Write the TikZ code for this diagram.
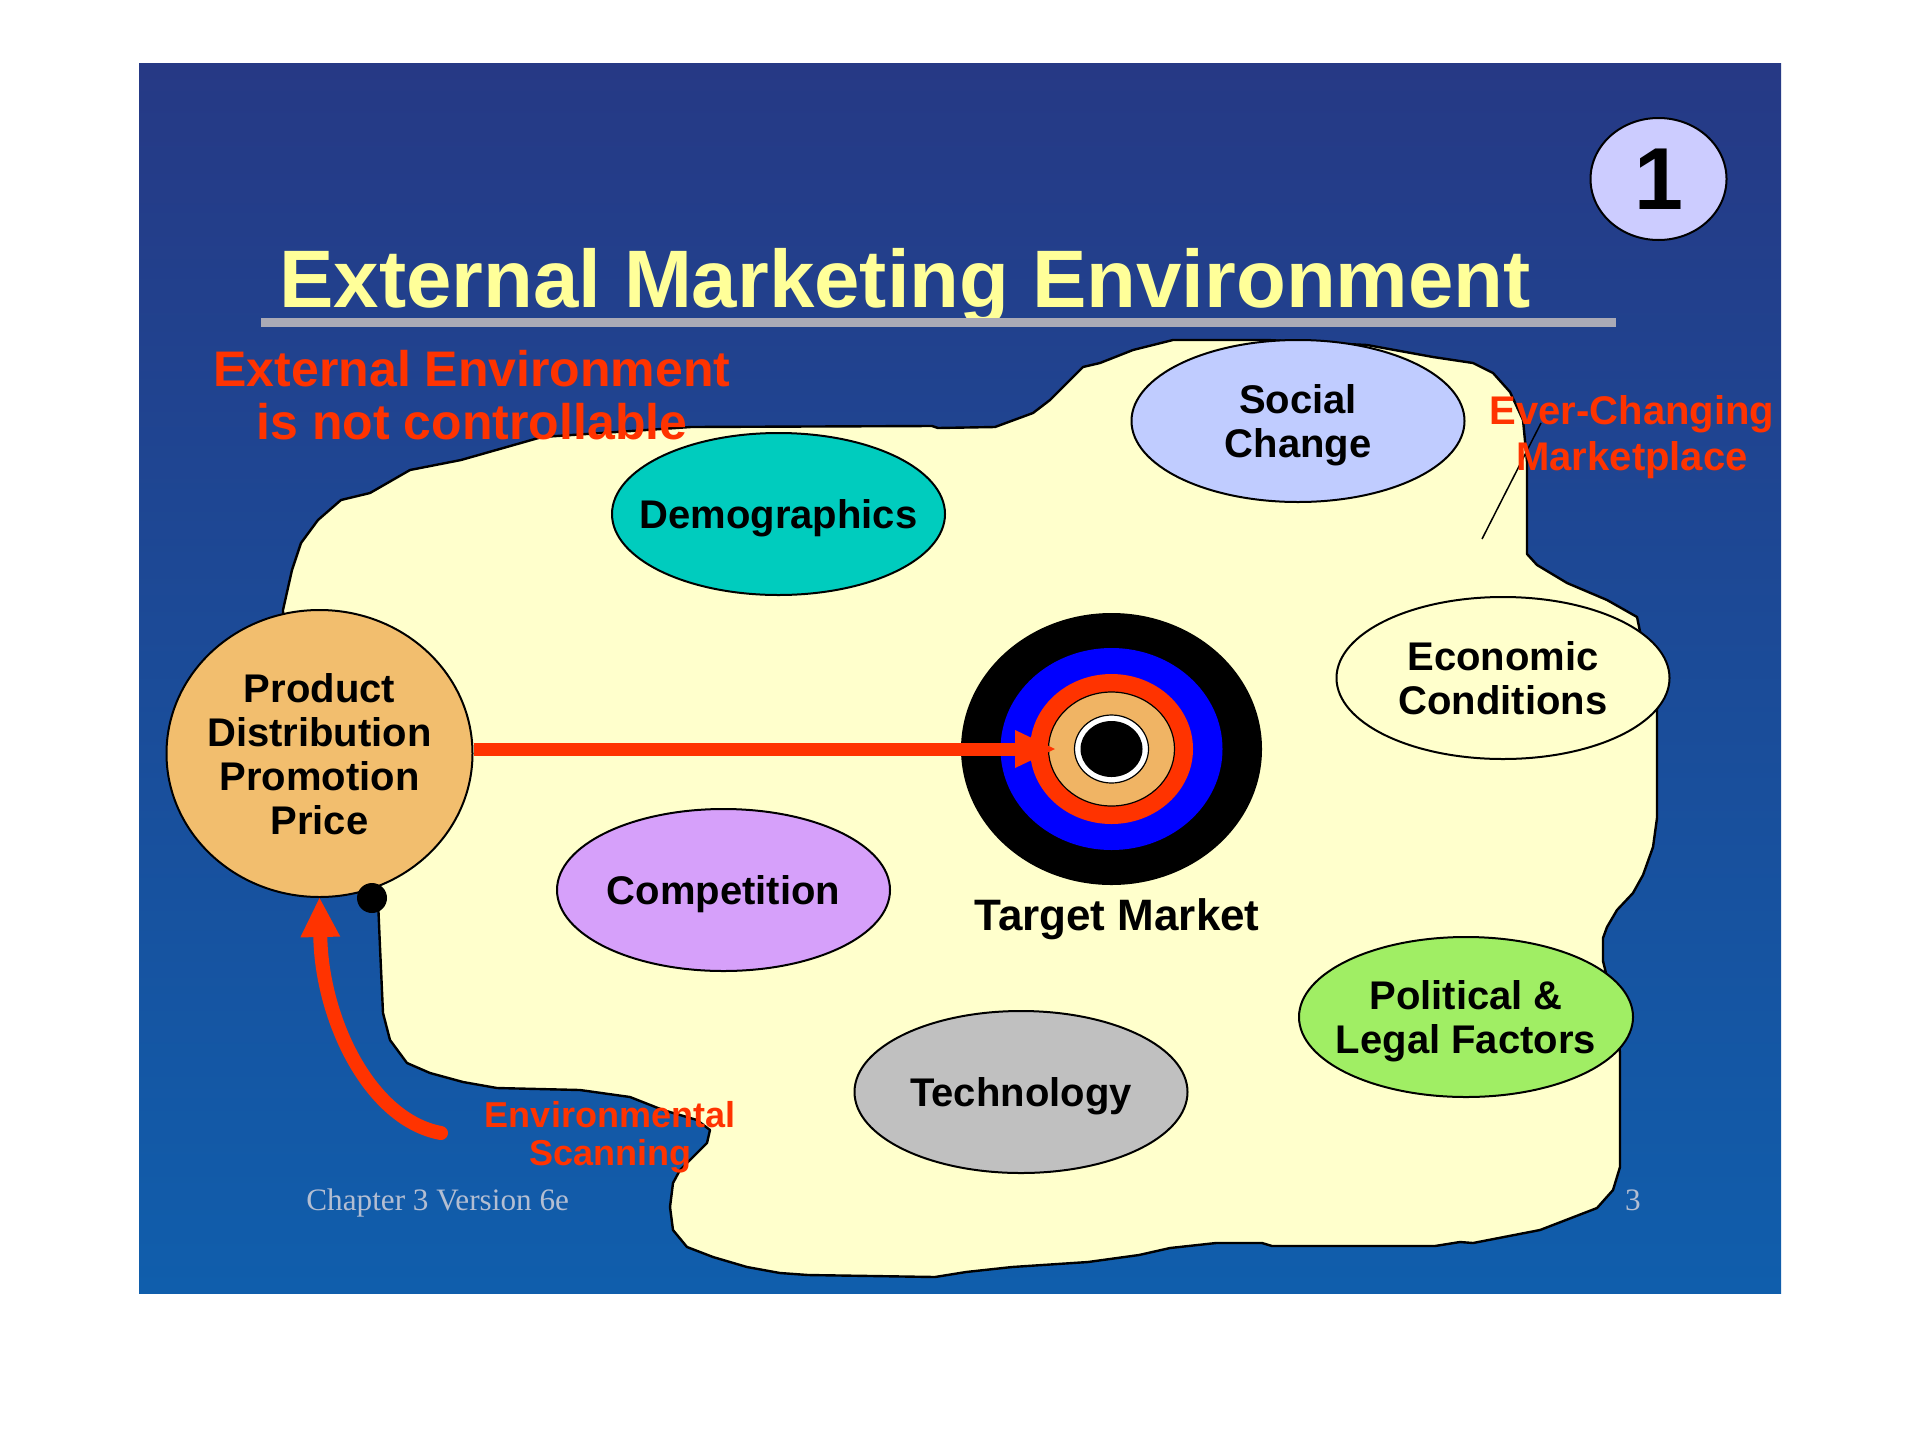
\documentclass[tikz,border=0pt]{standalone}
\usepackage{fontspec}
\setmainfont{Liberation Sans}
\newfontfamily\serifface{Liberation Serif}
\usetikzlibrary{arrows.meta,shapes.geometric}
\definecolor{bgtop}{RGB}{38,57,133}
\definecolor{bgbot}{RGB}{16,94,172}
\definecolor{cream}{RGB}{255,255,204}
\definecolor{hotred}{RGB}{255,51,0}
\definecolor{titleyel}{RGB}{255,255,153}
\definecolor{rulegray}{RGB}{170,170,182}
\definecolor{lavcircle}{RGB}{204,204,255}
\definecolor{tealfill}{RGB}{0,204,190}
\definecolor{socialfill}{RGB}{192,204,255}
\definecolor{purplefill}{RGB}{214,160,250}
\definecolor{grayfill}{RGB}{192,192,192}
\definecolor{greenfill}{RGB}{160,238,100}
\definecolor{prodfill}{RGB}{242,190,110}
\definecolor{ringorange}{RGB}{240,180,100}
\definecolor{footgray}{RGB}{180,190,210}
\begin{document}
\begin{tikzpicture}[x=0.5pt,y=-0.5pt,
  oval/.style={ellipse, draw=black, line width=1pt, inner sep=-60pt,
    minimum width=166.5pt, minimum height=81pt, align=center, text depth=0pt,
    font=\fontsize{20pt}{22pt}\selectfont\bfseries},
  ring/.style={ellipse, inner sep=0pt, draw=none},
  redlabel/.style={text=hotred, align=center, inner sep=0pt, text depth=0pt},
  footer/.style={text=footgray, inner sep=0pt, font=\serifface\fontsize{15.6pt}{16pt}\selectfont},
  bigarrow/.style={draw=hotred, line width=6.5pt},
]
\useasboundingbox (0,0) rectangle (1920,1440);
\fill[white] (0,0) rectangle (1920,1440);
\shade[top color=bgtop, bottom color=bgbot] (139,63) rectangle (1781,1293);

% title
\node[anchor=base west, inner sep=0pt, text=titleyel,
  font=\fontsize{40.8pt}{44pt}\selectfont\bfseries] (title) at (279,307) {External Marketing Environment};
\coordinate (ruleL) at (261,322.5);
\coordinate (ruleR) at (1616,322.5);
\draw[rulegray, line width=4.5pt] (ruleL) -- (ruleR);

% slide number circle
\node[ellipse, draw=black, line width=1pt, fill=lavcircle, inner sep=-40pt,
  minimum width=68pt, minimum height=61pt, text depth=0pt,
  font=\fontsize{44pt}{44pt}\selectfont\bfseries] (one) at (1658.5,179) {1};

% environment blob
\draw[fill=cream, line width=1.2pt, line join=round]
  (283,610) -- (292,570) -- (301,543) -- (318,520) -- (341,500) -- (370,493)
  -- (410,470) -- (461,460) -- (542,437) -- (691,427) -- (932,426) -- (938,428)
  -- (995,427) -- (1033,413) -- (1050,400) -- (1067,383) -- (1083,367) -- (1100,363)
  -- (1133,350) -- (1173,340) -- (1267,340) -- (1367,345) -- (1433,357) -- (1473,363)
  -- (1493,373) -- (1510,392) -- (1523,420) -- (1527,462) -- (1527,554) -- (1537,565)
  -- (1567,583) -- (1607,600) -- (1637,617) -- (1643,646) -- (1657,674) -- (1657,818)
  -- (1653,847) -- (1643,875) -- (1633,893) -- (1617,910) -- (1607,927) -- (1603,938)
  -- (1603,961) -- (1615,1010) -- (1620,1053) -- (1620,1167) -- (1613,1190) -- (1597,1208)
  -- (1540,1230) -- (1473,1243) -- (1460,1242) -- (1435,1246) -- (1272,1246) -- (1262,1243)
  -- (1216,1243) -- (1170,1248) -- (1139,1255) -- (1088,1262) -- (1012,1267) -- (966,1272)
  -- (935,1277) -- (808,1275) -- (780,1273) -- (747,1267) -- (713,1257) -- (687,1247)
  -- (673,1230) -- (670,1207) -- (673,1183) -- (680,1170) -- (693,1157) -- (707,1143)
  -- (710,1130) -- (697,1120) -- (663,1110) -- (630,1097) -- (580,1090) -- (497,1088)
  -- (463,1082) -- (430,1073) -- (407,1063) -- (390,1040) -- (383,1013) -- (380,947)
  -- (378,900) -- (330,800) -- (285,680) -- cycle;

% factor ellipses
\node[oval, fill=tealfill] (demo) at (778.5,514) {Demographics};
\node[oval, fill=socialfill] (social) at (1298,421) {Social\\Change};
\node[oval, fill=cream] (econ) at (1503,678) {Economic\\Conditions};
\node[oval, fill=purplefill] (comp) at (723.5,890) {Competition};
\node[oval, fill=grayfill] (tech) at (1021,1092) {Technology};
\node[oval, fill=greenfill, minimum width=167pt, minimum height=80pt] (pol) at (1466,1017) {Political \&\\Legal Factors};

% target
\node[ring, fill=black, minimum width=150.5pt, minimum height=136pt] (target) at (1111.5,749) {};
\node[ring, fill=blue, minimum width=111pt, minimum height=101pt] (tblue) at (target.center) {};
\node[ring, fill=hotred, minimum width=81.5pt, minimum height=75pt] (tred) at (target.center) {};
\node[ring, fill=ringorange, draw=black, line width=0.6pt, minimum width=63pt, minimum height=57pt] (torange) at (target.center) {};
\node[ring, fill=white, draw=black, line width=0.6pt, minimum width=37pt, minimum height=34pt] (twhite) at (target.center) {};
\node[ring, fill=black, minimum width=31pt, minimum height=28pt] (tcore) at (target.center) {};
\node[anchor=base, inner sep=0pt, font=\fontsize{22pt}{24pt}\selectfont\bfseries] (tmlabel) at (1117,930) {Target Market};

% marketing mix circle
\node[ellipse, draw=black, line width=1pt, fill=prodfill, inner sep=-80pt,
  minimum width=153pt, minimum height=143.5pt, align=center, text depth=0pt,
  font=\fontsize{20pt}{22pt}\selectfont\bfseries] (prod) at (319.5,753.5)
  {Product\\Distribution\\Promotion\\Price};

% arrow to target
\draw[bigarrow, -{Triangle[length=20pt,width=19pt,line width=0pt]}, shorten >=28.25pt]
  (prod.east |- target.center) -- (target.center);

% environmental scanning arrow
\coordinate (scan) at (441,1133);
\draw[draw=hotred, line width=7pt, line cap=round,
  -{Triangle[length=19.5pt,width=20pt,line width=0pt]}]
  (scan) .. controls (370,1120) and (322,1020) .. (prod.south);

\node[circle, fill=black, inner sep=0pt, minimum size=15pt] (dot) at (372,898) {};

% pointer for marketplace label
\coordinate (ptrlow) at (1482,539);
\coordinate (ptrhigh) at (1541,423);
\draw[black, line width=0.75pt] (ptrlow) -- (ptrhigh);

% red labels
\node[redlabel, font=\fontsize{25pt}{26.5pt}\selectfont\bfseries] (ctrl) at (472,395)
  {External Environment\\is not controllable};
\node[redlabel, font=\fontsize{20pt}{23pt}\selectfont\bfseries] (ever) at (1632,433)
  {Ever-Changing\\Marketplace};
\node[redlabel, font=\fontsize{18pt}{19pt}\selectfont\bfseries] (scanlbl) at (610,1133)
  {Environmental\\Scanning};

% footer
\node[footer, anchor=base west] (chap) at (306,1210) {Chapter 3 Version 6e};
\node[footer, anchor=base] (page) at (1633,1210) {3};
\end{tikzpicture}
\end{document}
